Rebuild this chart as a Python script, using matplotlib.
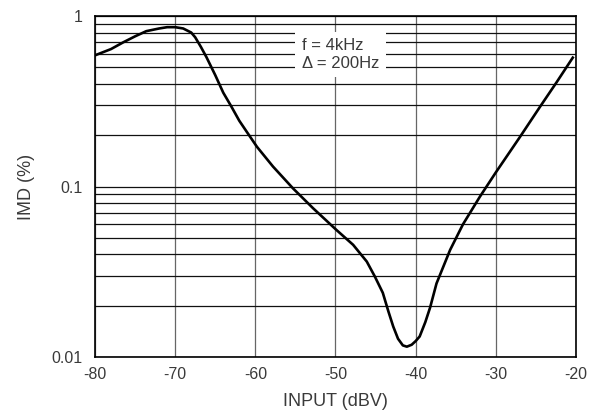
import numpy as np
import matplotlib.pyplot as plt
from matplotlib.ticker import FixedLocator, NullFormatter

# IMD vs input level

input_dbv = [-80, -78, -76.5, -75, -73.6, -72, -71, -70, -69, -68, -67.5,
             -66.8, -66.1, -65, -64, -63, -62, -61, -59.8, -57.8, -55.3,
             -52.8, -49.9, -47.8, -46.1, -45.1, -44.1, -43.4, -42.8, -42.2,
             -41.6, -41.1, -40.5, -40, -39.5, -38.8, -38.2, -37.4, -35.7,
             -34.1, -32, -30, -27, -24.5, -22.4, -20.4]
imd_pct = [0.588, 0.64, 0.70, 0.76, 0.815, 0.845, 0.86, 0.86, 0.845, 0.80,
           0.75, 0.66, 0.574, 0.45, 0.355, 0.295, 0.243, 0.207, 0.171, 0.131,
           0.0975, 0.0746, 0.0557, 0.0455, 0.0363, 0.0297, 0.0238, 0.0185,
           0.0151, 0.0128, 0.0117, 0.0115, 0.0118, 0.0124, 0.0132, 0.016,
           0.0195, 0.027, 0.0425, 0.060, 0.087, 0.121, 0.195, 0.293, 0.41,
           0.57]

x_ticks = [-80, -70, -60, -50, -40, -30, -20]
y_ticks = [0.01, 0.1, 1]
y_tick_labels = ["0.01", "0.1", "1"]
note_lines = ["f = 4kHz", "\u0394 = 200Hz"]

plt.rcParams['font.family'] = ['Liberation Sans', 'DejaVu Sans']

fig = plt.figure(figsize=(5.99, 4.18), dpi=100)
ax = fig.add_axes([0.1586, 0.1459, 0.8030, 0.8158])

# Grid first, curve on top
ax.set_yscale('log')
ax.set_xlim(-80, -20)
ax.set_ylim(0.01, 1)
ax.set_xticks(x_ticks)
ax.set_xticklabels([str(t) for t in x_ticks])
ax.set_yticks(y_ticks)
ax.set_yticklabels(y_tick_labels)
minor = [m * d for d in (0.01, 0.1) for m in range(2, 10)]
ax.yaxis.set_minor_locator(FixedLocator(minor))
ax.yaxis.set_minor_formatter(NullFormatter())

ax.grid(which='major', axis='x', color='#666666', linewidth=0.9)
ax.grid(which='both', axis='y', color='#111111', linewidth=0.9)
ax.tick_params(which='both', length=0, labelsize=11.5, labelcolor='#3a3a3a')
ax.tick_params(axis='x', pad=7)
ax.tick_params(axis='y', pad=9)

ax.plot(input_dbv, imd_pct, color='black', linewidth=1.9, zorder=3)

for s in ax.spines.values():
    s.set_linewidth(1.2)

ax.set_xlabel("INPUT (dBV)", fontsize=13, color='#3a3a3a', labelpad=8)
ax.set_ylabel("IMD (%)", fontsize=13, color='#3a3a3a', labelpad=12)

# Annotation box over the grid
ax.text(-54.2, 0.594, "\n".join(note_lines), ha='left', va='center',
        fontsize=12, color='#3a3a3a', linespacing=1.22, zorder=4,
        bbox=dict(facecolor='white', edgecolor='none', pad=4.5))

plt.savefig("out.png", dpi=100)
